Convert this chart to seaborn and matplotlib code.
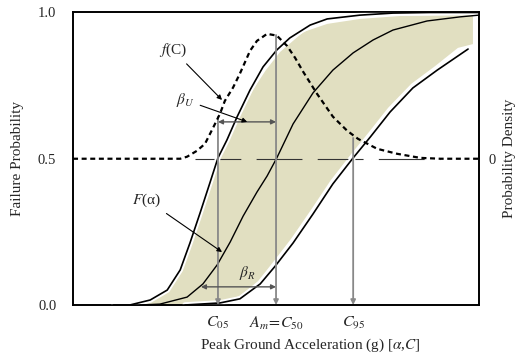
import matplotlib
matplotlib.use('Agg')
import matplotlib.pyplot as plt
import matplotlib.patheffects as pe
import seaborn as sns

# --- data (x in arbitrary g units, y = probability) ---
left_x = [0.10, 0.140, 0.190, 0.232, 0.264, 0.288, 0.313, 0.337, 0.357, 0.379, 0.404,
          0.436, 0.468, 0.502, 0.534, 0.584, 0.626, 0.707, 0.788, 0.879, 1.0]
left_y = [0.0, 0.0, 0.017, 0.051, 0.120, 0.212, 0.315, 0.417, 0.503, 0.564, 0.643,
          0.735, 0.814, 0.872, 0.913, 0.957, 0.978, 0.991, 0.998, 1.0, 1.0]

mid_x = [0.165, 0.214, 0.281, 0.320, 0.355, 0.387, 0.419, 0.453, 0.478, 0.502, 0.542,
         0.591, 0.640, 0.690, 0.739, 0.788, 0.872, 0.953, 1.0]
mid_y = [0.0, 0.003, 0.027, 0.072, 0.137, 0.215, 0.304, 0.386, 0.441, 0.503, 0.619,
         0.725, 0.803, 0.862, 0.906, 0.940, 0.971, 0.985, 0.991]

right_x = [0.276, 0.362, 0.411, 0.461, 0.498, 0.542, 0.591, 0.640, 0.690, 0.732,
           0.781, 0.837, 0.897, 0.973]
right_y = [0.0, 0.007, 0.021, 0.072, 0.133, 0.212, 0.311, 0.414, 0.503, 0.574,
           0.660, 0.742, 0.803, 0.875]

dens_x = [0.0, 0.264, 0.281, 0.305, 0.325, 0.345, 0.362, 0.374, 0.394, 0.411, 0.436,
          0.453, 0.478, 0.502, 0.527, 0.547, 0.567, 0.601, 0.640, 0.675, 0.702,
          0.749, 0.798, 0.855, 0.904, 1.0]
dens_y = [0.0, 0.0, 0.007, 0.027, 0.051, 0.106, 0.154, 0.198, 0.243, 0.291, 0.369,
          0.403, 0.427, 0.421, 0.386, 0.345, 0.297, 0.222, 0.144, 0.096, 0.068,
          0.034, 0.017, 0.003, 0.0, 0.0]

# shaded band (outline)
band_x = [0.160, 0.202, 0.239, 0.271, 0.296, 0.320, 0.345, 0.362, 0.384, 0.411, 0.443,
          0.475, 0.510, 0.567, 0.626, 0.707, 0.805, 0.985,
          0.985, 0.948, 0.892, 0.833, 0.776, 0.727, 0.685, 0.635, 0.586, 0.537,
          0.493, 0.456, 0.411, 0.362, 0.264]
band_y = [0.0, 0.024, 0.058, 0.126, 0.222, 0.325, 0.427, 0.503, 0.564, 0.650, 0.735,
          0.803, 0.865, 0.933, 0.961, 0.978, 0.988, 0.991,
          0.892, 0.879, 0.817, 0.756, 0.674, 0.588, 0.516, 0.427, 0.325, 0.226,
          0.147, 0.082, 0.031, 0.010, 0.003]

c_levels = [0.357, 0.5, 0.69]
c_tops = [0.643, 0.923, 0.571]
c_labels = [r'$C_{\mathrm{05}}$', r'$A_m\!=\!C_{\mathrm{50}}$', r'$C_{\mathrm{95}}$']

beta_u_span = [0.357, 0.5]
beta_u_level = 0.626
beta_r_span = [0.315, 0.5]
beta_r_level = 0.062

ref_level = 0.5
ref_span = [0.30, 0.904]

sns.set_style('white')
plt.rcParams['font.family'] = ['Liberation Serif', 'DejaVu Serif']
plt.rcParams['mathtext.fontset'] = 'stix'
plt.rcParams['lines.scale_dashes'] = False

fig = plt.figure(figsize=(5.19, 3.56), dpi=100)
ax = fig.add_axes([0.1407, 0.1433, 0.7823, 0.8216])

# band
ax.fill(band_x, band_y, color='#e1dfc1', lw=0, zorder=1)

# fragility curves
halo = [pe.withStroke(linewidth=4, foreground='white')]
sns.lineplot(x=left_x, y=left_y, ax=ax, color='black', lw=1.2, zorder=3,
             path_effects=halo)
sns.lineplot(x=right_x, y=right_y, ax=ax, color='black', lw=1.2, zorder=3,
             path_effects=halo)
sns.lineplot(x=mid_x, y=mid_y, ax=ax, color='black', lw=1.0, zorder=3)

# 0.5 reference line
ax.hlines(ref_level, ref_span[0], ref_span[1], color='#333333', lw=0.8,
          linestyle=(0, (33, 11)), zorder=2)

# vertical markers at C05, C50, C95
for cx, ct in zip(c_levels, c_tops):
    ax.annotate('', xy=(cx, 0), xytext=(cx, ct),
                arrowprops=dict(arrowstyle='-|>', color='#888888', lw=1.3,
                                mutation_scale=7, shrinkA=0, shrinkB=0), zorder=4)

# beta arrows
ax.annotate('', xy=(beta_u_span[1], beta_u_level), xytext=(beta_u_span[0], beta_u_level),
            arrowprops=dict(arrowstyle='<|-|>', color='#555555', lw=1.0,
                            mutation_scale=7, shrinkA=0, shrinkB=0), zorder=4)
ax.annotate('', xy=(beta_r_span[1], beta_r_level), xytext=(beta_r_span[0], beta_r_level),
            arrowprops=dict(arrowstyle='<|-|>', color='#555555', lw=1.0,
                            mutation_scale=7, shrinkA=0, shrinkB=0), zorder=4)

# labels with pointer arrows
arr = dict(arrowstyle='-|>', color='black', lw=0.8, mutation_scale=7, shrinkA=2, shrinkB=0)
ax.annotate(r'$f$(C)', xy=(0.367, 0.701), xytext=(0.246, 0.872), ha='center', va='center',
            fontsize=11, arrowprops=arr, zorder=5)
ax.annotate(r'$\beta_U$', xy=(0.429, 0.626), xytext=(0.276, 0.701), ha='center',
            va='center', fontsize=11, arrowprops=arr, zorder=5)
ax.annotate(r'$F$(α)', xy=(0.367, 0.181), xytext=(0.182, 0.359), ha='center',
            va='center', fontsize=11, arrowprops=arr, zorder=5)
ax.text(0.429, 0.109, r'$\beta_R$', ha='center', va='center', fontsize=11, zorder=5)

ax.set_xlim(0, 1)
ax.set_ylim(0, 1)
ax.set_yticks([0.0, 0.5, 1.0])
ax.set_yticklabels(['0.0', '0.5', '1.0'])
ax.set_xticks(c_levels)
ax.set_xticklabels(c_labels, fontsize=11.5)
ax.tick_params(axis='y', length=0, pad=12, labelsize=10.5)
ax.tick_params(axis='x', length=0, pad=7)
ax.set_ylabel('Failure Probability', fontsize=11, labelpad=10)
ax.set_xlabel(r'Peak Ground Acceleration (g) [$\alpha$,$C$]', fontsize=11)
ax.xaxis.set_label_coords(0.584, -0.107)

# density on a secondary axis
ax2 = ax.twinx()
ax2.set_ylim(-0.5, 0.5)
sns.lineplot(x=dens_x, y=dens_y, ax=ax2, color='black', lw=1.6,
             linestyle=(0, (3.6, 2.6)), zorder=6)
ax2.set_yticks([0])
ax2.set_yticklabels(['0'])
ax2.tick_params(axis='y', length=0, pad=7, labelsize=10.5)
ax2.set_ylabel('Probability Density', fontsize=11, labelpad=5)

for a in (ax, ax2):
    for s in a.spines.values():
        s.set_color('black')
        s.set_linewidth(1.2)

fig.savefig('out.png', dpi=100)
